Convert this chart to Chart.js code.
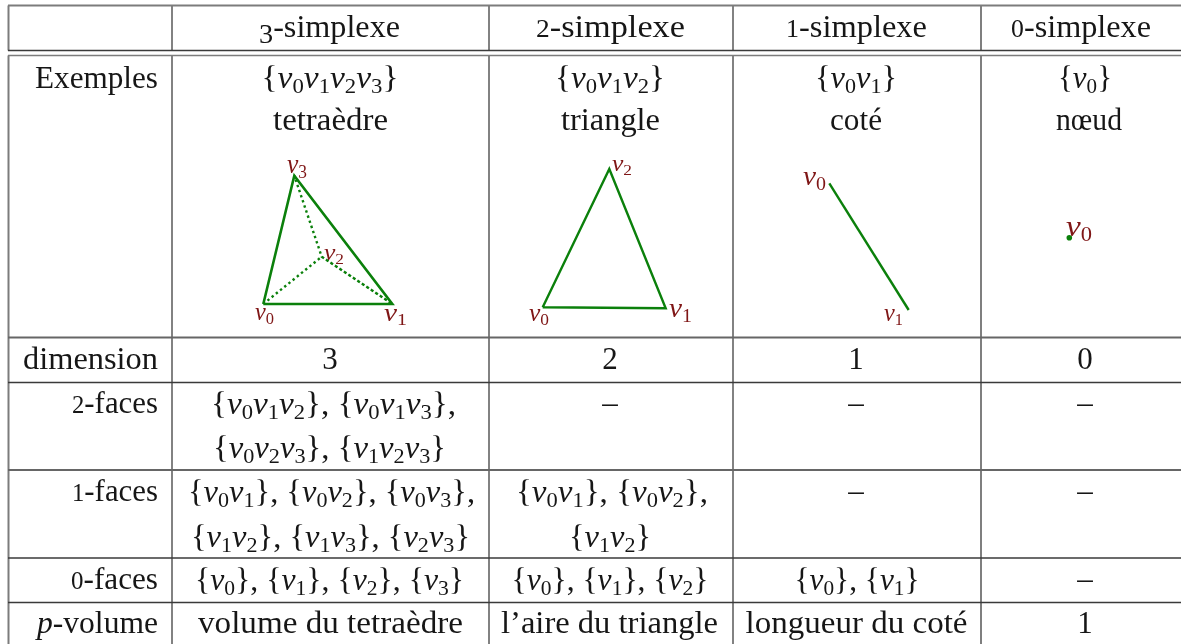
<!DOCTYPE html>
<html lang="fr">
<head>
<meta charset="utf-8">
<title>Simplexes</title>
<style>
html,body{margin:0;padding:0;background:#fff;overflow:hidden}
#wrap{position:absolute;left:0;top:0;width:1181px;height:644px}
canvas{display:block}
</style>
<script src="https://cdn.jsdelivr.net/npm/chart.js@4"></script>
</head>
<body>
<div id="wrap"><canvas id="c" width="1181" height="644"></canvas></div>
<script>
// ---------- Text content ----------
const columnHeaders = ['3-simplexe', '2-simplexe', '1-simplexe', '0-simplexe'];
const rowLabels = ['Exemples', 'dimension', '2-faces', '1-faces', '0-faces', 'p-volume'];
const exampleSets = ['{v0v1v2v3}', '{v0v1v2}', '{v0v1}', '{v0}'];
const exampleNames = ['tetraèdre', 'triangle', 'coté', 'nœud'];
const dimensions = ['3', '2', '1', '0'];
const twoFaces = ['{v0v1v2}, {v0v1v3},', '{v0v2v3}, {v1v2v3}'];
const oneFaces3 = ['{v0v1}, {v0v2}, {v0v3},', '{v1v2}, {v1v3}, {v2v3}'];
const oneFaces2 = ['{v0v1}, {v0v2},', '{v1v2}'];
const zeroFaces = ['{v0}, {v1}, {v2}, {v3}', '{v0}, {v1}, {v2}', '{v0}, {v1}'];
const volumes = ['volume du tetraèdre', 'l’aire du triangle', 'longueur du coté', '1'];
const emptyCell = '–';

// ---------- Table rules ----------
const verticalX = [8.5, 172, 489, 733, 981];
const headerTop = 5.5, headerBottom = 50.5, bodyTop = 55.5, pageBottom = 644, pageRight = 1181;
const rowRules = [337.5, 382.5, 470, 558, 602.5];

// ---------- Simplex drawings ----------
const tetraX = [263.3, 392.3, 294.3, 263.3];
const tetraY = [304, 304, 175.7, 304];
const tetraHiddenX = [263.3, 321.7, 392.3, 321.7, 294.3];
const tetraHiddenY = [304, 256.7, 304, 256.7, 175.7];
const triangleX = [542.7, 665.7, 609.3, 542.7];
const triangleY = [307.3, 308.3, 169, 307.3];
const segmentX = [829.3, 908.7];
const segmentY = [183.3, 310];
const pointX = [1069.3];
const pointY = [237.7];

const pts = (xs, ys) => xs.map((x, i) => ({x, y: ys[i]}));
const RULE_DARK = '#3a3a3a', RULE_GREY = '#7c7c7c', GREEN = '#0b800b', MAROON = '#7f1616', INK = '#161616';

function rule(xs, ys, color, width) {
  return {data: pts(xs, ys), showLine: true, borderColor: color, borderWidth: width,
          pointRadius: 0, fill: false, tension: 0, borderCapStyle: 'butt'};
}
const datasets = [];
// horizontal rules
datasets.push(rule([8, pageRight], [headerTop, headerTop], RULE_GREY, 2));
datasets.push(rule([8, pageRight], [headerBottom, headerBottom], RULE_DARK, 1.4));
datasets.push(rule([8, pageRight], [bodyTop, bodyTop], RULE_GREY, 1.6));
rowRules.forEach((y, i) => datasets.push(rule([8, pageRight], [y, y], (i === 0 || i === 2) ? '#666' : RULE_DARK, (i === 0 || i === 2) ? 1.8 : 1.3)));
// vertical rules
verticalX.forEach((x, i) => {
  const col = i === 0 ? RULE_GREY : (i === 4 ? '#555' : '#5a5a5a');
  const w = i === 0 ? 2 : 1.5;
  datasets.push(rule([x, x], [headerTop, headerBottom], col, w));
  datasets.push(rule([x, x], [bodyTop, pageBottom], col, w));
});
// simplexes
datasets.push(rule(tetraX, tetraY, GREEN, 2.6));
datasets.push(Object.assign(rule(tetraHiddenX, tetraHiddenY, GREEN, 2.4), {borderDash: [2.4, 3]}));
datasets.push(rule(triangleX, triangleY, GREEN, 2.4));
datasets.push(rule(segmentX, segmentY, GREEN, 2.4));
datasets.push({data: pts(pointX, pointY), showLine: false, pointRadius: 2.8, pointBackgroundColor: GREEN, pointBorderWidth: 0});

// ---------- Text placement ----------
const FONT = '"Liberation Serif"';
const place = [];
const put = (s, cx, base, w, opts) => place.push(Object.assign({s, cx, base, w}, opts || {}));
const right = (s, r, base, w) => place.push({s, cx: r - w / 2, base, w});

// header
put(columnHeaders[0], 329.5, 37, 141);
put(columnHeaders[1], 610.5, 37, 149);
put(columnHeaders[2], 856.5, 37, 141);
put(columnHeaders[3], 1081, 37, 140);
// row labels
right(rowLabels[0], 158, 88, 123);
right(rowLabels[1], 158, 369, 135);
right(rowLabels[2], 158, 413, 86);
right(rowLabels[3], 158, 501, 86);
right(rowLabels[4], 158, 589, 87);
right(rowLabels[5], 158, 633, 121);
// examples
put(exampleSets[0], 330, 88, 137);
put(exampleSets[1], 610, 88, 110);
put(exampleSets[2], 856, 88, 82);
put(exampleSets[3], 1085, 88, 54);
put(exampleNames[0], 330.5, 130, 115);
put(exampleNames[1], 610.5, 130, 99);
put(exampleNames[2], 856, 130, 52);
put(exampleNames[3], 1089, 130, 66);
// dimension
put(dimensions[0], 330, 369);
put(dimensions[1], 610, 369);
put(dimensions[2], 856, 369);
put(dimensions[3], 1085, 369);
// 2-faces
put(twoFaces[0], 333.5, 414, 245);
put(twoFaces[1], 329.5, 458, 233);
[610, 856, 1085].forEach(x => put(emptyCell, x, 413));
// 1-faces
put(oneFaces3[0], 331.5, 502, 287);
put(oneFaces3[1], 330.5, 546.5, 279);
put(oneFaces2[0], 612, 502, 192);
put(oneFaces2[1], 610, 546.5, 82);
[856, 1085].forEach(x => put(emptyCell, x, 501));
// 0-faces
put(zeroFaces[0], 329.5, 589.5, 269);
put(zeroFaces[1], 610, 589.5, 197);
put(zeroFaces[2], 857, 589.5, 125);
put(emptyCell, 1085, 589);
// volumes
put(volumes[0], 330.5, 633, 265);
put(volumes[1], 609.5, 633, 217);
put(volumes[2], 856.5, 633, 222);
put(volumes[3], 1085, 633);
// simplex vertex labels
const lab = (s, x0, x1, base, size) => put(s, (x0 + x1) / 2, base, x1 - x0, {color: MAROON, size});
lab('v3', 287, 307, 173, 27);
lab('v2', 324, 344, 260, 23);
lab('v0', 255, 274, 320, 26);
lab('v1', 384, 407, 320.5, 26);
lab('v2', 612, 632, 171, 23);
lab('v1', 669, 692, 317, 27);
lab('v0', 529, 549, 321, 26);
lab('v0', 803, 826, 185, 28);
lab('v1', 884, 903, 321, 26);
lab('v0', 1066, 1092, 236, 30);

function segments(s, size) {
  const segs = [];
  const isMath = s[0] === '{' || /^v\d$/.test(s);
  if (isMath) {
    for (let i = 0; i < s.length; i++) {
      const c = s[i];
      if (c === 'v') segs.push({t: 'v', font: `italic ${size}px ${FONT}`, dy: 0});
      else if (/\d/.test(c)) segs.push({t: c, font: `${size * 0.68}px ${FONT}`, dy: size * 0.17});
      else segs.push({t: c, font: `${size}px ${FONT}`, dy: 0});
    }
  } else if (/^\d-/.test(s)) {
    const d = s[0];
    const dy = d === '3' ? size * 0.2 : 0;
    segs.push({t: d, font: `${size * (d === '3' ? 0.88 : 0.8)}px ${FONT}`, dy});
    segs.push({t: s.slice(1), font: `${size}px ${FONT}`, dy: 0});
  } else if (/^p-/.test(s)) {
    segs.push({t: 'p', font: `italic ${size}px ${FONT}`, dy: 0});
    segs.push({t: s.slice(1), font: `${size}px ${FONT}`, dy: 0});
  } else {
    segs.push({t: s, font: `${size}px ${FONT}`, dy: 0});
  }
  return segs;
}

const textPlugin = {
  id: 'tableText',
  afterDatasetsDraw(chart) {
    const {ctx, scales: {x: sx, y: sy}} = chart;
    ctx.save();
    ctx.textBaseline = 'alphabetic';
    ctx.textAlign = 'left';
    place.forEach(p => {
      const size = p.size || 31;
      const segs = segments(p.s, size);
      let total = 0;
      segs.forEach(g => { ctx.font = g.font; g.w = ctx.measureText(g.t).width; total += g.w; });
      const k = p.w ? p.w / total : 1;
      ctx.save();
      ctx.translate(sx.getPixelForValue(p.cx) - total * k / 2, sy.getPixelForValue(p.base));
      ctx.scale(k, 1);
      ctx.fillStyle = p.color || INK;
      let cur = 0;
      segs.forEach(g => { ctx.font = g.font; ctx.fillText(g.t, cur, g.dy); cur += g.w; });
      ctx.restore();
    });
    ctx.restore();
  }
};

new Chart(document.getElementById('c'), {
  type: 'scatter',
  data: {datasets},
  plugins: [textPlugin],
  options: {
    responsive: false,
    animation: false,
    events: [],
    layout: {padding: 0, autoPadding: false},
    plugins: {legend: {display: false}, tooltip: {enabled: false}, title: {display: false}},
    scales: {
      x: {type: 'linear', min: 0, max: pageRight, display: false},
      y: {type: 'linear', min: 0, max: pageBottom, reverse: true, display: false}
    },
    elements: {line: {borderJoinStyle: 'miter'}},
    clip: false
  }
});
</script>
</body>
</html>
